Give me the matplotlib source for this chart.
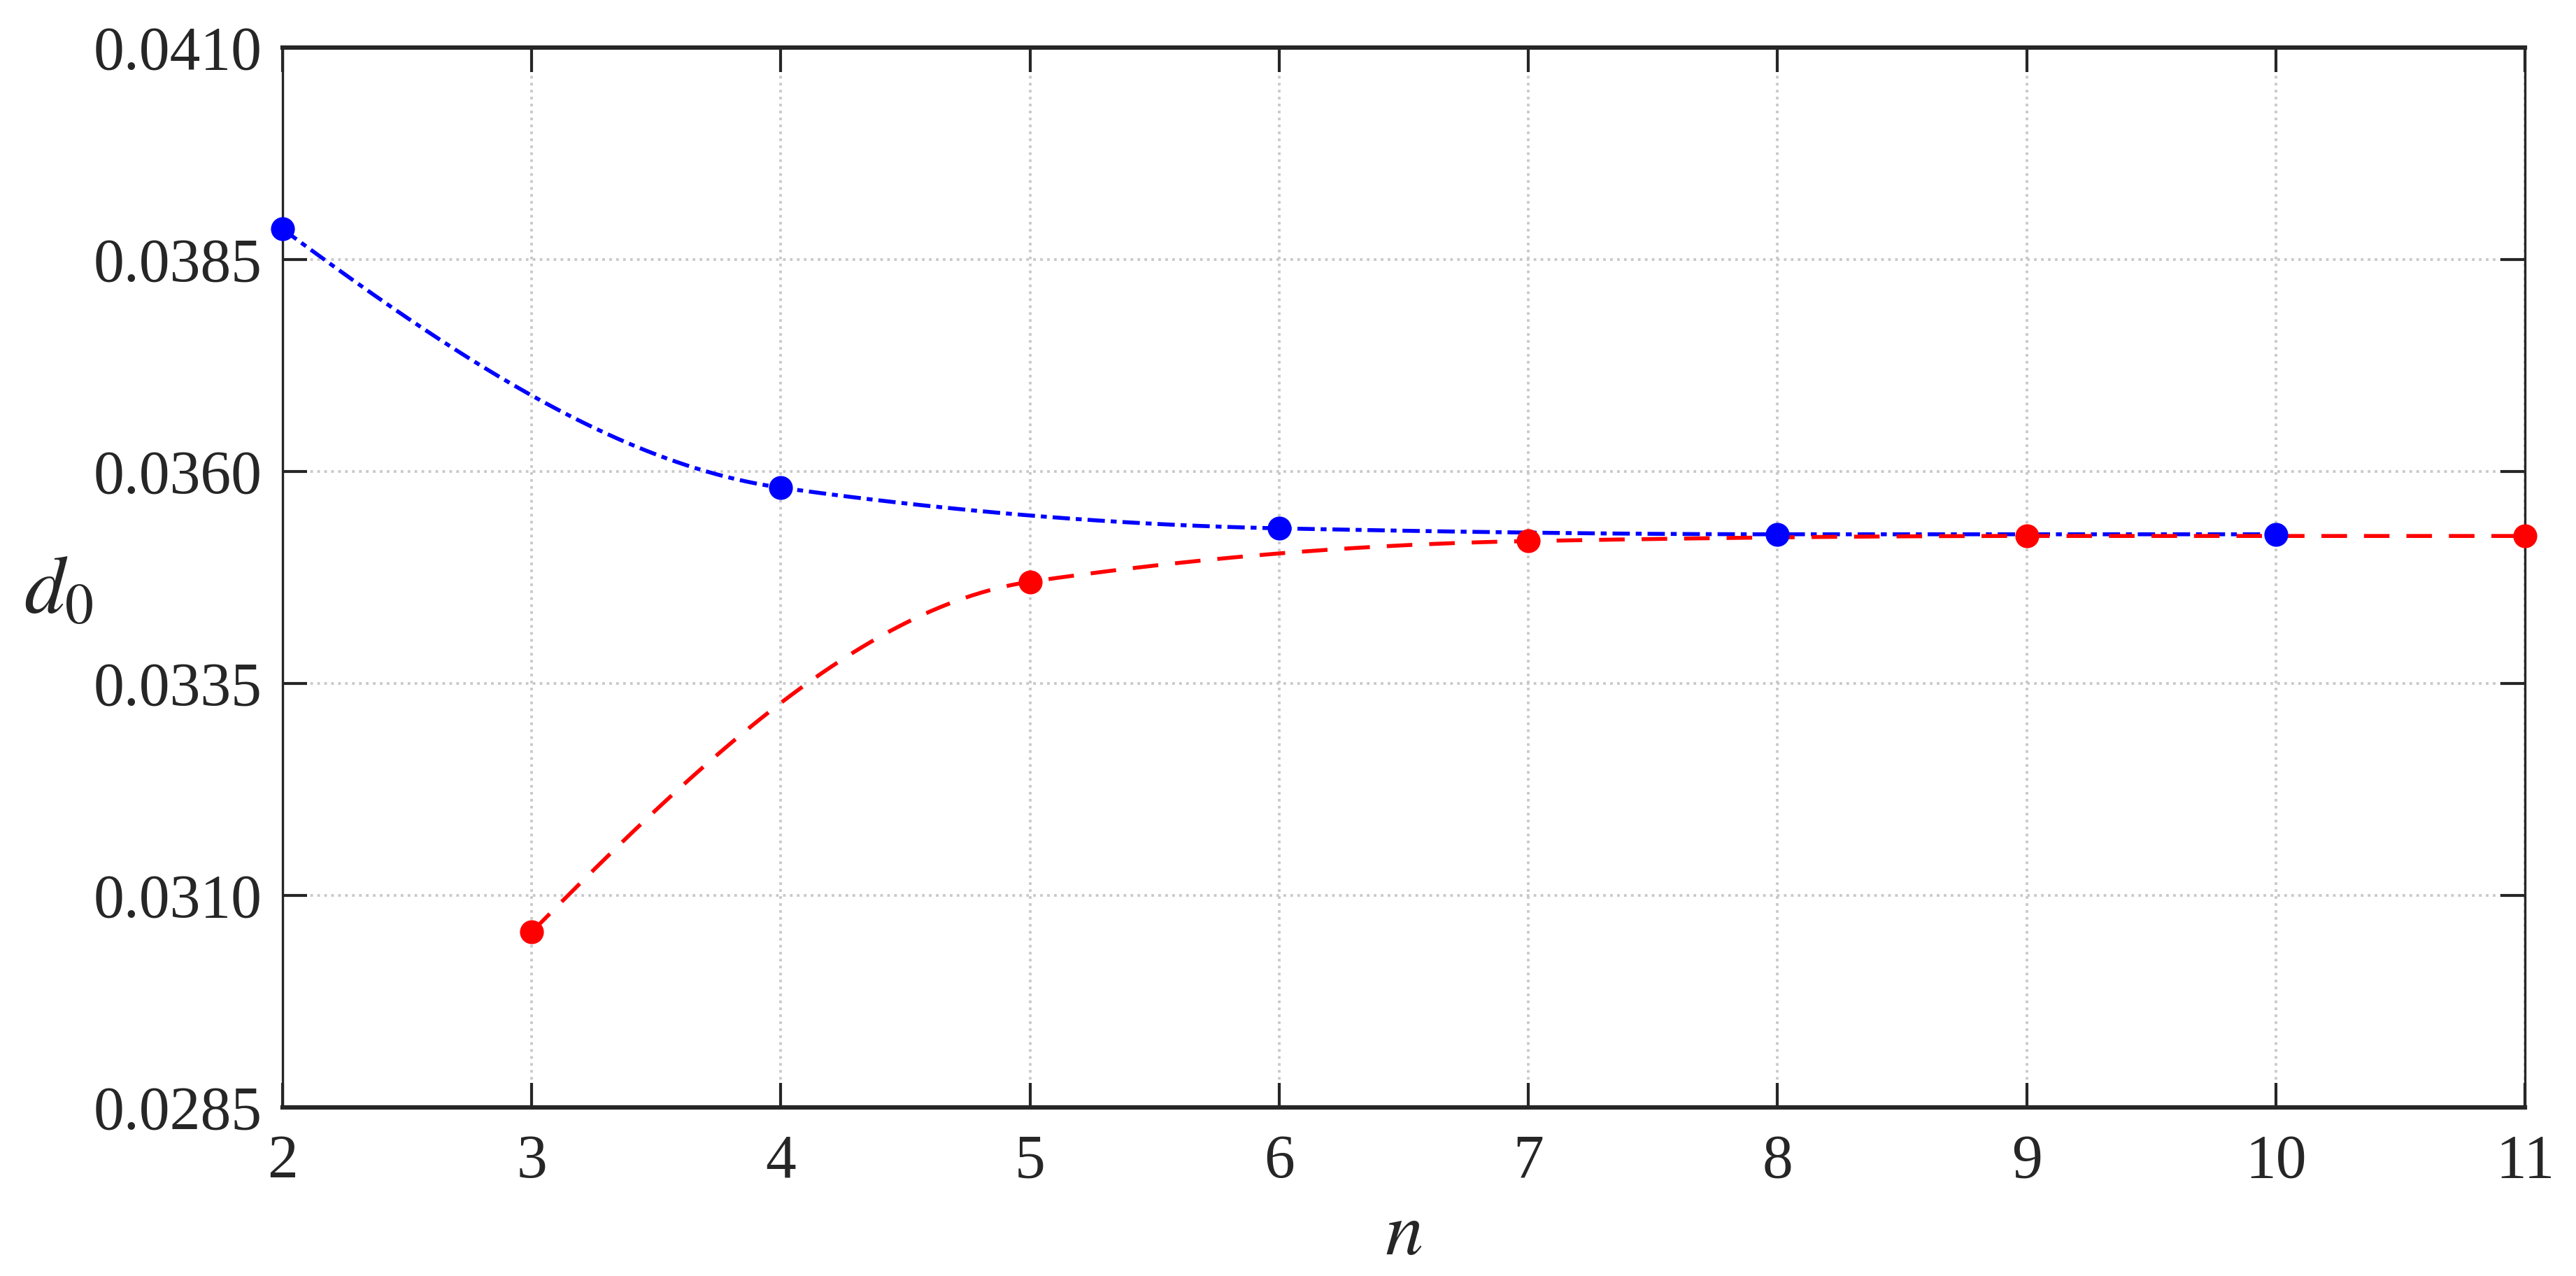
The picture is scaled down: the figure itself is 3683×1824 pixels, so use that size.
import numpy as np
import matplotlib
matplotlib.use("Agg")
import matplotlib.pyplot as plt

# Data
n_blue = [2, 4, 6, 8, 10]
d0_blue = [0.03886, 0.03581, 0.03533, 0.03526, 0.03526]
n_red = [3, 5, 7, 9, 11]
d0_red = [0.03057, 0.03470, 0.03518, 0.03524, 0.03524]

x_ticks = [2, 3, 4, 5, 6, 7, 8, 9, 10, 11]
y_ticks = [0.0285, 0.0310, 0.0335, 0.0360, 0.0385, 0.0410]


def pchip_curve(x, y, num=400):
    """Monotone (Fritsch-Carlson) cubic Hermite curve through the data points."""
    x = np.asarray(x, float)
    y = np.asarray(y, float)
    n = len(x)
    h = np.diff(x)
    delta = np.diff(y) / h
    d = np.zeros(n)
    for k in range(1, n - 1):
        if delta[k - 1] * delta[k] <= 0:
            d[k] = 0.0
        else:
            w1 = 2 * h[k] + h[k - 1]
            w2 = h[k] + 2 * h[k - 1]
            d[k] = (w1 + w2) / (w1 / delta[k - 1] + w2 / delta[k])

    def end_slope(h0, h1, m0, m1):
        s = ((2 * h0 + h1) * m0 - h0 * m1) / (h0 + h1)
        if np.sign(s) != np.sign(m0):
            s = 0.0
        elif np.sign(m0) != np.sign(m1) and abs(s) > abs(3 * m0):
            s = 3 * m0
        return s

    d[0] = end_slope(h[0], h[1], delta[0], delta[1])
    d[-1] = end_slope(h[-1], h[-2], delta[-1], delta[-2])
    xs = np.linspace(x[0], x[-1], num)
    ys = np.empty_like(xs)
    for j, xv in enumerate(xs):
        i = min(np.searchsorted(x, xv, side="right") - 1, n - 2)
        t = (xv - x[i]) / h[i]
        h00 = 2 * t ** 3 - 3 * t ** 2 + 1
        h10 = t ** 3 - 2 * t ** 2 + t
        h01 = -2 * t ** 3 + 3 * t ** 2
        h11 = t ** 3 - t ** 2
        ys[j] = h00 * y[i] + h10 * h[i] * d[i] + h01 * y[i + 1] + h11 * h[i] * d[i + 1]
    return xs, ys


plt.rcParams["font.family"] = ["Liberation Serif", "DejaVu Serif"]
plt.rcParams["mathtext.fontset"] = "stix"

fig = plt.figure(figsize=(3683 / 300, 1824 / 300), dpi=300)
ax = fig.add_axes([0.1097, 0.1321, 0.8705, 0.8306])

ax.grid(True, color="#c8c8c8", linestyle=":", linewidth=0.9)
ax.set_axisbelow(True)

xb, yb = pchip_curve(n_blue, d0_blue)
xr, yr = pchip_curve(n_red, d0_red)

ax.plot(xb, yb, color="#0000ff", linewidth=1.35, dashes=(4.4, 1.5, 1.5, 1.5), zorder=3)
ax.plot(xr, yr, color="#ff0000", linewidth=1.35, dashes=(6.5, 4.3), zorder=3)
ax.plot(n_blue, d0_blue, "o", color="#0000ff", markersize=7.2, zorder=4, clip_on=False)
ax.plot(n_red, d0_red, "o", color="#ff0000", markersize=7.2, zorder=4, clip_on=False)

ax.set_xlim(2, 11)
ax.set_ylim(0.0285, 0.0410)
ax.set_xticks(x_ticks)
ax.set_yticks(y_ticks)
ax.set_yticklabels([f"{v:.4f}" for v in y_ticks])

ax.tick_params(axis="both", which="major", direction="in", length=8.5, width=1.0,
               top=True, right=True, labelsize=21, colors="#262626", pad=7)
ax.tick_params(axis="x", pad=9)

for side in ["top", "bottom"]:
    ax.spines[side].set_linewidth(1.5)
for side in ["left", "right"]:
    ax.spines[side].set_linewidth(0.8)
for s in ax.spines.values():
    s.set_color("#262626")

ax.set_xlabel(r"$n$", fontsize=26, color="#262626", labelpad=4)
ax.set_ylabel(r"$d_0$", fontsize=28, color="#262626", rotation=0, labelpad=0)
ax.yaxis.set_label_coords(-0.1, 0.45)

fig.savefig("out.png", dpi=300)
